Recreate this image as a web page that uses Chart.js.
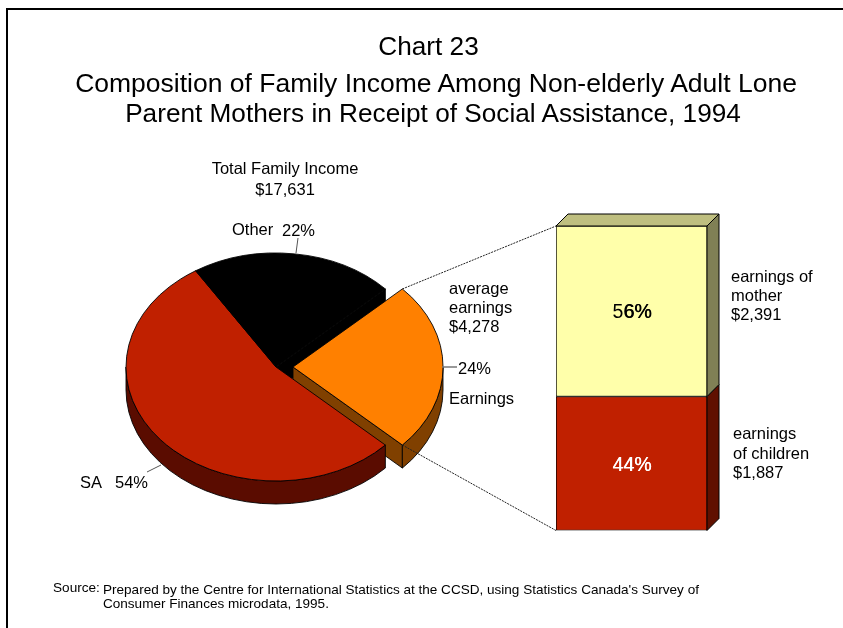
<!DOCTYPE html>
<html>
<head>
<meta charset="utf-8">
<script src="https://cdn.jsdelivr.net/npm/chart.js@4"></script>
<style>
html,body{margin:0;padding:0;background:#fff;width:843px;height:628px;overflow:hidden;font-family:"Liberation Sans",Arial,sans-serif;color:#000}
#frame{position:absolute;left:6px;top:8px;width:840px;height:630px;border-left:2px solid #000;border-top:2px solid #000;box-sizing:border-box}
.w{position:absolute}
.w canvas{display:block}
.t{position:absolute;white-space:pre;line-height:1}
.c{transform:translateX(-50%);text-align:center}
svg{position:absolute;left:0;top:0}
</style>
</head>
<body>
<div id="frame"></div>
<div class="w" style="left:0;top:167px;width:552px;height:400px"><canvas id="pie" width="552" height="400"></canvas></div>
<div class="w" style="left:540px;top:200px;width:200px;height:345px"><canvas id="bar" width="200" height="345"></canvas></div>
<svg id="lines" width="843" height="628"></svg>

<div class="t c" style="left:428.5px;top:33px;font-size:26.2px">Chart 23</div>
<div class="t c" style="left:436px;top:70px;font-size:26.5px">Composition of Family Income Among Non-elderly Adult Lone</div>
<div class="t c" style="left:433px;top:100px;font-size:26.2px">Parent Mothers in Receipt of Social Assistance, 1994</div>

<div class="t c" style="left:285px;top:158px;font-size:16.5px;line-height:20.5px">Total Family Income
$17,631</div>
<div class="t" style="left:232px;top:221px;font-size:16.5px">Other</div>
<div class="t" style="left:282px;top:222px;font-size:16.5px">22%</div>
<div class="t" style="left:449px;top:279px;font-size:16.5px;line-height:19px">average
earnings
$4,278</div>
<div class="t" style="left:458px;top:360px;font-size:16.5px">24%</div>
<div class="t" style="left:449px;top:390px;font-size:16.5px">Earnings</div>
<div class="t" style="left:80px;top:474px;font-size:16.5px">SA</div>
<div class="t" style="left:115px;top:474px;font-size:16.5px">54%</div>
<div class="t" style="left:731px;top:267px;font-size:16.5px;line-height:19px">earnings of
mother
$2,391</div>
<div class="t" style="left:733px;top:424px;font-size:16.5px;line-height:19.5px">earnings
of children
$1,887</div>
<div class="t c" style="left:632px;top:302px;font-size:19.5px">5<span style="text-shadow:.6px 0 0 #000">6%</span></div>
<div class="t c" style="left:632px;top:455px;font-size:19.5px;color:#fff;text-shadow:.3px 0 0 #fff">44%</div>
<div class="t" style="left:53px;top:581px;font-size:13.6px">Source:</div>
<div class="t" style="left:103px;top:583px;font-size:13.55px;line-height:14px">Prepared by the Centre for International Statistics at the CCSD, using Statistics Canada's Survey of
Consumer Finances microdata, 1995.</div>

<script>
const pieLabels = ['Earnings', 'SA', 'Other'];
const pieValues = [24, 54, 22];
const pieColors = ['#FF8000', '#C02000', '#000000'];
const pieDepthColors = ['#804000', '#5A0C00', '#000000'];
const pieOffsets = [68, 0, 0];

const barLabels = ['Earnings'];
const childrenValues = [44];
const motherValues = [56];
const barSeriesColors = ['#C02000', '#FFFFAA'];
const barSideColors = ['#601000', '#808055'];
const barTopColor = '#BFBF80';

Chart.defaults.animation = false;
const tilt = 114 / 150, depth = 23;

const pie3d = {
  id: 'pie3d',
  beforeDatasetsDraw(chart) {
    const ctx = chart.ctx, els = chart.getDatasetMeta(0).data;
    const cy = els[0].y;
    ctx.save();
    ctx.translate(0, cy); ctx.scale(1, tilt); ctx.translate(0, -cy);
    const d = depth / tilt;
    const order = els.map((e, i) => i).sort((a, b) =>
      Math.sin((els[a].startAngle + els[a].endAngle) / 2) - Math.sin((els[b].startAngle + els[b].endAngle) / 2));
    ctx.lineWidth = 1; ctx.strokeStyle = '#000'; ctx.lineJoin = 'round';
    for (const i of order) {
      const el = els[i], mid = (el.startAngle + el.endAngle) / 2;
      const shift = (el.options.offset || 0) / 4;
      const x = el.x + Math.cos(mid) * shift, y = el.y + Math.sin(mid) * shift, r = el.outerRadius;
      ctx.fillStyle = pieDepthColors[i];
      const face = a => {
        ctx.beginPath();
        ctx.moveTo(x, y);
        ctx.lineTo(x + Math.cos(a) * r, y + Math.sin(a) * r);
        ctx.lineTo(x + Math.cos(a) * r, y + Math.sin(a) * r + d);
        ctx.lineTo(x, y + d);
        ctx.closePath(); ctx.fill(); ctx.stroke();
      };
      if (Math.cos(el.startAngle) < 0) face(el.startAngle);
      if (Math.cos(el.endAngle) > 0) face(el.endAngle);
      const a0 = Math.max(el.startAngle, 0), a1 = Math.min(el.endAngle, Math.PI);
      if (a1 > a0) {
        ctx.beginPath();
        ctx.arc(x, y, r, a0, a1);
        ctx.arc(x, y + d, r, a1, a0, true);
        ctx.closePath(); ctx.fill(); ctx.stroke();
      }
    }
  },
  afterDatasetsDraw(chart) { chart.ctx.restore(); }
};

const pieChart = new Chart(document.getElementById('pie'), {
  type: 'pie',
  data: { labels: pieLabels, datasets: [{
    data: pieValues, backgroundColor: pieColors, borderColor: '#000', borderWidth: 1,
    offset: pieOffsets, radius: 150, clip: false
  }]},
  options: {
    responsive: false, rotation: 46.8,
    layout: { padding: 0 },
    plugins: { legend: { display: false }, tooltip: { enabled: false } }
  },
  plugins: [pie3d]
});

const bar3d = {
  id: 'bar3d',
  beforeDatasetsDraw(chart) {
    const ctx = chart.ctx, dx = 12, dy = 12;
    ctx.save(); ctx.lineWidth = 1; ctx.strokeStyle = '#000';
    const poly = (pts, fill) => {
      ctx.beginPath();
      pts.forEach((p, i) => i ? ctx.lineTo(p[0], p[1]) : ctx.moveTo(p[0], p[1]));
      ctx.closePath(); ctx.fillStyle = fill; ctx.fill(); ctx.stroke();
    };
    chart.data.datasets.forEach((ds, i) => {
      const el = chart.getDatasetMeta(i).data[0];
      const L = el.x - el.width / 2, R = el.x + el.width / 2;
      poly([[R, el.y], [R + dx, el.y - dy], [R + dx, el.base - dy], [R, el.base]], barSideColors[i]);
      if (i === chart.data.datasets.length - 1)
        poly([[L, el.y], [L + dx, el.y - dy], [R + dx, el.y - dy], [R, el.y]], barTopColor);
    });
    ctx.restore();
  }
};

const barChart = new Chart(document.getElementById('bar'), {
  type: 'bar',
  data: { labels: barLabels, datasets: [
    { label: 'earnings of children', data: childrenValues, backgroundColor: barSeriesColors[0] },
    { label: 'earnings of mother', data: motherValues, backgroundColor: barSeriesColors[1] }
  ]},
  options: {
    responsive: false,
    layout: { padding: { left: 16, right: 33, top: 26, bottom: 14.5 } },
    datasets: { bar: { barPercentage: 1, categoryPercentage: 1, borderColor: '#000', borderWidth: 1, borderSkipped: false } },
    scales: {
      x: { stacked: true, display: false },
      y: { stacked: true, display: false, min: 0, max: 100 }
    },
    plugins: { legend: { display: false }, tooltip: { enabled: false } }
  },
  plugins: [bar3d]
});

// Connector and leader lines, anchored to the drawn pie slice and bar
const svg = document.getElementById('lines');
function line(x1, y1, x2, y2, color, w, dash) {
  const l = document.createElementNS('http://www.w3.org/2000/svg', 'line');
  l.setAttribute('x1', x1); l.setAttribute('y1', y1); l.setAttribute('x2', x2); l.setAttribute('y2', y2);
  l.setAttribute('stroke', color); l.setAttribute('stroke-width', w);
  if (dash) l.setAttribute('stroke-dasharray', dash);
  svg.appendChild(l);
}
const slice = pieChart.getDatasetMeta(0).data[0];
const sliceMid = (slice.startAngle + slice.endAngle) / 2, sliceShift = slice.options.offset / 4;
const rim = a => [
  slice.x + Math.cos(sliceMid) * sliceShift + Math.cos(a) * slice.outerRadius,
  167 + slice.y + (Math.sin(sliceMid) * sliceShift + Math.sin(a) * slice.outerRadius) * tilt
];
const top1 = barChart.getDatasetMeta(1).data[0], bot0 = barChart.getDatasetMeta(0).data[0];
const barLeft = 540 + top1.x - top1.width / 2;
const pA = rim(slice.startAngle), pB = rim(slice.endAngle);
line(pA[0], pA[1], barLeft, 200 + top1.y, '#222', 1, '2 1');
line(pB[0], pB[1], barLeft, 200 + bot0.base, '#222', 1, '2 1');
line(296, 253, 298, 238, '#555', 1);
line(161, 465, 147, 472, '#555', 1);
line(442, 367, 457, 367, '#777', 1.5);
</script>
</body>
</html>
